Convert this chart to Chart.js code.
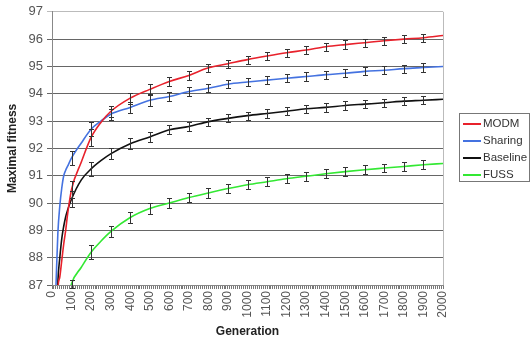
<!DOCTYPE html>
<html>
<head>
<meta charset="utf-8">
<script src="https://cdn.jsdelivr.net/npm/chart.js@4/dist/chart.umd.min.js"></script>
<style>
  html, body { margin: 0; padding: 0; background: #fff; }
  #wrap { position: relative; width: 532px; height: 339px; }
  #legend {
    position: absolute; left: 459px; top: 113px; width: 69px; height: 67px;
    border: 1px solid #777; font: 11.5px "Liberation Sans", Arial, sans-serif; color: #333;
  }
  #legend div { position: absolute; left: 3px; height: 17px; line-height: 17px; white-space: nowrap; }
  #legend span { display: inline-block; width: 18px; height: 2px; vertical-align: middle; margin-right: 2px; }
</style>
</head>
<body>
<div id="wrap">
  <canvas id="chart" width="532" height="339"></canvas>
  <div id="legend"></div>
</div>
<script>
const generations = [20, 30, 40, 50, 60, 70, 80, 100, 150, 200, 250, 300, 400, 500, 600, 700, 800, 900, 1000,
  1100, 1200, 1300, 1400, 1500, 1600, 1700, 1800, 1900, 2000];

const modm = [84.0, 86.8, 87.3, 87.9, 88.5, 89.0, 89.6, 90.5, 91.5, 92.4, 92.95, 93.35, 93.84, 94.16, 94.45, 94.67,
  94.95, 95.1, 95.25, 95.38, 95.5, 95.6, 95.72, 95.8, 95.87, 95.94, 96.0, 96.05, 96.13];
const sharing = [86.9, 88.9, 89.9, 90.55, 91.0, 91.2, 91.35, 91.65, 92.2, 92.7, 93.0, 93.25, 93.5, 93.76, 93.9, 94.08,
  94.2, 94.35, 94.43, 94.5, 94.57, 94.63, 94.7, 94.75, 94.82, 94.86, 94.92, 94.96, 95.0];
const baseline = [84.5, 87.1, 88.0, 88.7, 89.15, 89.5, 89.75, 90.15, 90.85, 91.25, 91.55, 91.8, 92.17, 92.42, 92.68, 92.8,
  92.98, 93.1, 93.2, 93.28, 93.36, 93.45, 93.5, 93.57, 93.62, 93.67, 93.73, 93.76, 93.8];
const fuss = [null, null, null, null, null, null, 86.4, 87.05, 87.65, 88.2, 88.6, 88.95, 89.47, 89.8, 90.0, 90.2,
  90.37, 90.53, 90.67, 90.78, 90.89, 90.98, 91.07, 91.15, 91.22, 91.28, 91.34, 91.4, 91.45];

// error bars every 100 generations
const errGens = [100, 200, 300, 400, 500, 600, 700, 800, 900, 1000, 1100, 1200, 1300, 1400, 1500, 1600, 1700, 1800, 1900];
const modmErr = [0.3, 0.3, 0.2, 0.2, 0.18, 0.16, 0.15, 0.15, 0.15, 0.15, 0.15, 0.15, 0.15, 0.15, 0.15, 0.15, 0.15, 0.15, 0.15];
const sharingErr = [0.25, 0.25, 0.2, 0.2, 0.2, 0.16, 0.15, 0.15, 0.15, 0.15, 0.15, 0.15, 0.15, 0.15, 0.15, 0.15, 0.15, 0.15, 0.15];
const baselineErr = [0.3, 0.25, 0.2, 0.2, 0.18, 0.16, 0.15, 0.15, 0.15, 0.15, 0.15, 0.15, 0.15, 0.15, 0.15, 0.15, 0.15, 0.15, 0.15];
const fussErr = [0.15, 0.25, 0.2, 0.2, 0.2, 0.18, 0.18, 0.18, 0.17, 0.17, 0.17, 0.16, 0.16, 0.16, 0.16, 0.16, 0.16, 0.16, 0.16];

const seriesNames = ['MODM', 'Sharing', 'Baseline', 'FUSS'];
const seriesColors = ['#e8212b', '#4472e0', '#111111', '#33e833'];
const yTicks = [87, 88, 89, 90, 91, 92, 93, 94, 95, 96, 97];

const seriesData = [modm, sharing, baseline, fuss];
const seriesErr = [modmErr, sharingErr, baselineErr, fussErr];

const font = { family: '"Liberation Sans", Arial, sans-serif', size: 12 };

const errorBars = {
  id: 'errorBars',
  afterDatasetsDraw(chart) {
    const { ctx, scales: { x, y } } = chart;
    ctx.save();
    ctx.strokeStyle = '#333';
    ctx.lineWidth = 1;
    chart.data.datasets.forEach((ds, i) => {
      errGens.forEach((g, j) => {
        const v = ds.data.find(p => p.x === g).y;
        const e = seriesErr[i][j];
        const px = Math.round(x.getPixelForValue(g)) + 0.5;
        const top = Math.round(y.getPixelForValue(v + e)) + 0.5;
        const bot = Math.round(y.getPixelForValue(v - e)) + 0.5;
        ctx.beginPath();
        ctx.moveTo(px, top); ctx.lineTo(px, bot);
        ctx.moveTo(px - 2.5, top); ctx.lineTo(px + 2.5, top);
        ctx.moveTo(px - 2.5, bot); ctx.lineTo(px + 2.5, bot);
        ctx.stroke();
      });
    });
    ctx.restore();
  }
};

new Chart(document.getElementById('chart'), {
  type: 'line',
  data: {
    datasets: seriesNames.map((name, i) => ({
      label: name,
      data: generations.map((g, k) => ({ x: g, y: seriesData[i][k] })),
      borderColor: seriesColors[i],
      borderWidth: 1.6,
      pointRadius: 0,
      fill: false,
      cubicInterpolationMode: 'monotone',
      spanGaps: false
    }))
  },
  options: {
    responsive: false,
    animation: false,
    layout: { padding: { top: 10, right: 89, left: 0, bottom: 0 } },
    plugins: { legend: { display: false }, tooltip: { enabled: false } },
    scales: {
      x: {
        type: 'linear',
        min: 0, max: 2000,
        afterBuildTicks(axis) {
          const t = [];
          for (let v = 0; v <= 2000; v += 10) t.push({ value: v });
          axis.ticks = t;
        },
        afterFit(axis) { axis.height = 54; },
        ticks: {
          autoSkip: false, maxRotation: 90, minRotation: 90, padding: 2,
          color: '#555', font,
          callback: v => (v % 100 === 0 ? String(v) : '')
        },
        grid: { drawOnChartArea: false, drawTicks: true, tickLength: 4, color: '#777' },
        border: { color: '#888' },
        title: { display: true, text: 'Generation', color: '#222', font: { ...font, weight: 'bold' }, padding: { top: 0, bottom: 0 } }
      },
      y: {
        min: 87, max: 97,
        afterBuildTicks(axis) { axis.ticks = yTicks.map(v => ({ value: v })); },
        afterFit(axis) { axis.width = 52; },
        ticks: { color: '#555', font: { ...font, size: 13 }, padding: 4 },
        grid: {
          color: ctx => (ctx.tick && ctx.tick.value === 97 ? '#bbb' : '#666'),
          tickLength: 5
        },
        border: { color: '#888' },
        title: { display: true, text: 'Maximal fitness', color: '#222', font: { ...font, weight: 'bold' }, padding: { top: 5, bottom: 0 } }
      }
    }
  },
  plugins: [errorBars, {
    id: 'rightBorder',
    beforeDatasetsDraw(chart) {
      const { ctx, chartArea: a } = chart;
      ctx.save();
      ctx.strokeStyle = '#bbb';
      ctx.beginPath();
      ctx.moveTo(Math.round(a.right) + 0.5, a.top);
      ctx.lineTo(Math.round(a.right) + 0.5, a.bottom);
      ctx.stroke();
      ctx.restore();
    }
  }]
});

const legend = document.getElementById('legend');
seriesNames.forEach((name, i) => {
  const row = document.createElement('div');
  row.style.top = (1 + i * 17) + 'px';
  row.innerHTML = `<span style="background:${seriesColors[i]}"></span>${name}`;
  legend.appendChild(row);
});
</script>
</body>
</html>
